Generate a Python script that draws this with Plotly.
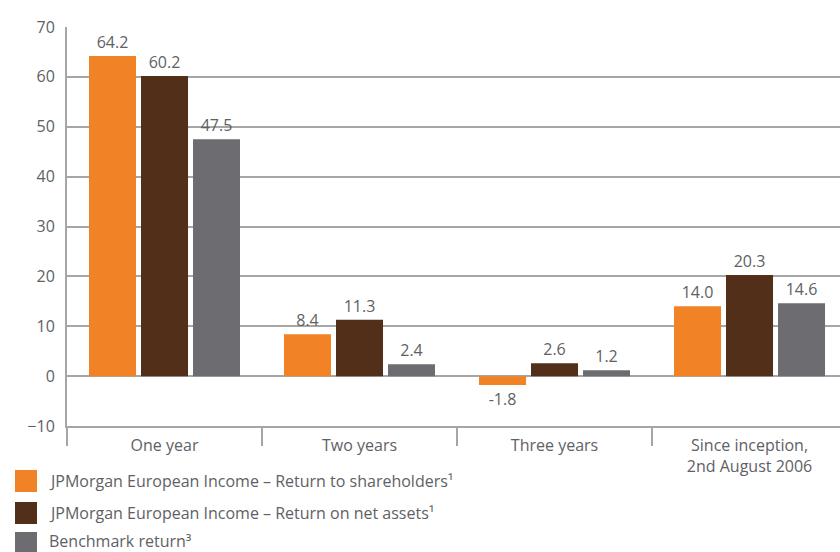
import plotly.graph_objects as go

categories = ["One year", "Two years", "Three years", "Since inception,<br>2nd August 2006"]
series_names = [
    "JPMorgan European Income – Return to shareholders¹",
    "JPMorgan European Income – Return on net assets¹",
    "Benchmark return³",
]
shareholders = [64.2, 8.4, -1.8, 14.0]
net_assets = [60.2, 11.3, 2.6, 20.3]
benchmark = [47.5, 2.4, 1.2, 14.6]
y_ticks = [-10, 0, 10, 20, 30, 40, 50, 60, 70]

colors = ["#F18225", "#522F18", "#6D6D71"]
series_values = [shareholders, net_assets, benchmark]
TXT = "#606165"
GRID = "#A6A6A6"
FONT = "Open Sans"

fig = go.Figure()
for name, vals, col in zip(series_names, series_values, colors):
    fig.add_trace(go.Bar(
        x=categories, y=vals, name=name, marker=dict(color=col, line=dict(width=0)),
        text=[f"{v:.1f}" for v in vals], textposition="outside",
        textfont=dict(family=FONT, size=16, color=TXT), cliponaxis=False,
        showlegend=False,
    ))

# legend drawn as layout decoration (paper coordinates)
PLOT_H = 399
BOTTOM = 426
PLOT_W = 773
LEFT = 67
square_rows = [481, 513, 543]
text_rows = [481, 513, 541]
shapes = []
annotations = []
for i, (name, col) in enumerate(zip(series_names, colors)):
    yc = square_rows[i]
    shapes.append(dict(type="rect", xref="paper", yref="paper",
                       x0=(15 - LEFT) / PLOT_W, x1=(37 - LEFT) / PLOT_W,
                       y0=(BOTTOM - (yc - 11)) / PLOT_H,
                       y1=(BOTTOM - (yc + 11)) / PLOT_H,
                       fillcolor=col, line=dict(width=0), layer="above"))
    annotations.append(dict(xref="paper", yref="paper", x=(47 - LEFT) / PLOT_W,
                            y=(BOTTOM - text_rows[i]) / PLOT_H, xanchor="left", yanchor="middle",
                            text=name, showarrow=False,
                            font=dict(family=FONT, size=16, color=TXT)))

fig.update_layout(
    width=840, height=552,
    margin=dict(l=67, r=0, t=27, b=126),
    plot_bgcolor="white", paper_bgcolor="white",
    barmode="group", bargap=0.2, bargroupgap=0.096,
    font=dict(family=FONT, size=16, color=TXT),
    shapes=shapes, annotations=annotations,
    xaxis=dict(range=[-0.5, 3.464], tickson="boundaries", ticks="outside",
               ticklen=18, tickwidth=2, tickcolor=GRID, showline=True,
               linecolor=GRID, linewidth=2, showgrid=False,
               ticklabelstandoff=4,
               tickfont=dict(family=FONT, size=16, color=TXT), fixedrange=True),
    yaxis=dict(range=[-10, 70], tickvals=y_ticks, showgrid=True, gridcolor=GRID,
               gridwidth=2, zeroline=True, zerolinecolor=GRID, zerolinewidth=2,
               showline=True, linecolor=GRID, linewidth=2, ticks="",
               ticklabelstandoff=7,
               tickfont=dict(family=FONT, size=16, color=TXT), fixedrange=True),
)

fig.write_html("out.html")
